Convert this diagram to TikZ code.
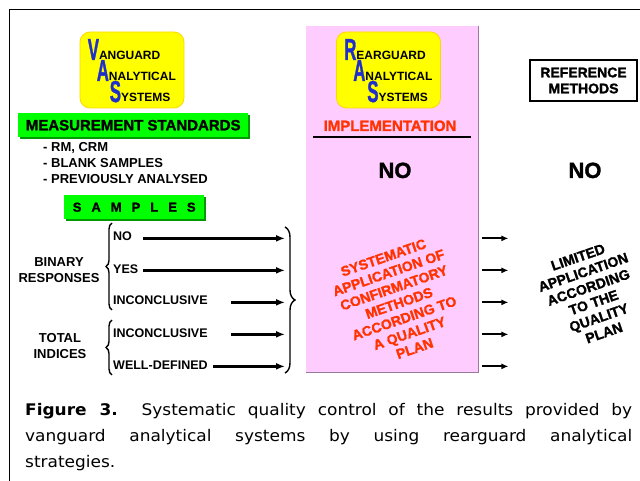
\documentclass[tikz,border=0pt]{standalone}
\usepackage{fontspec}
\setmainfont{Liberation Sans}
\newfontfamily\heavyfont{Liberation Sans}[BoldFeatures={FakeBold=1.5}]
\newfontfamily\capfont{DejaVu Sans}[FakeStretch=1.06]
\usepackage{xcolor}
\usetikzlibrary{arrows.meta,positioning,decorations.pathreplacing,shadows}
\definecolor{vyellow}{HTML}{FFFF00}
\definecolor{vgreen}{HTML}{00FF00}
\definecolor{vshade}{HTML}{009900}
\definecolor{rpink}{HTML}{FFCCFF}
\definecolor{rshade}{HTML}{9A7A9A}
\definecolor{rred}{HTML}{FF3300}
\definecolor{letblue}{HTML}{1F2FCC}
\newcommand{\bigletter}[1]{\textcolor{letblue}{\scalebox{1.05}[1.9]{\heavyfont\bfseries\fontsize{16}{16}\selectfont #1}}}
\begin{document}
\begin{tikzpicture}[x=1pt,y=-1pt,
  sysbox/.style={rectangle,rounded corners=10pt,draw=yellow!75!orange,line width=0.8pt,fill=vyellow,minimum width=104pt,minimum height=76pt},
  sysline/.style={anchor=base west,inner sep=0pt,font=\fontsize{12}{12}\selectfont\bfseries},
  greenbox/.style={rectangle,fill=vgreen,inner sep=0pt,anchor=north west,drop shadow={shadow xshift=1.5pt,shadow yshift=-1.5pt,fill=vshade,opacity=1}},
  item/.style={anchor=base west,inner sep=0pt,font=\fontsize{12.5}{15}\selectfont\bfseries},
  group/.style={align=center,inner sep=0pt,font=\fontsize{13}{16}\selectfont\bfseries},
  longarr/.style={-{Latex[length=9pt,width=7pt]},line width=2.4pt},
  smallarr/.style={-{Latex[length=7pt,width=6pt]},line width=1.8pt},
  curly/.style={decorate,decoration={brace,amplitude=#1},line width=1.4pt},
  slanted/.style={align=center,rotate=19,inner sep=0pt,font=\heavyfont\fontsize{14}{16}\selectfont\bfseries}]
\useasboundingbox (0,0) rectangle (640,481);
\draw[line width=1pt] (9,481) -- (9,10) -- (640,10);
% rearguard column
\node[rectangle,fill=rpink,anchor=north west,minimum width=172pt,minimum height=346pt,inner sep=0pt] (pink) at (306,26) {};
\draw[rshade,line width=1pt] (pink.north east) -- (pink.south east) -- (pink.south west);
\node[sysbox] (ras) at (388.5,70) {};
\node[sysline] (r1) at ([shift={(8,-10)}]ras.west) {\bigletter{R}EARGUARD};
\node[sysline] (r2) at ([shift={(17,11)}]ras.west) {\bigletter{A}NALYTICAL};
\node[sysline] (r3) at ([shift={(31,32)}]ras.west) {\bigletter{S}YSTEMS};
\node[anchor=base,inner sep=0pt,text=rred,font=\heavyfont\fontsize{15}{15}\selectfont\bfseries] (impl) at (390,131) {IMPLEMENTATION};
\draw[line width=2pt] (313,137) -- (471,137);
\node[anchor=base,inner sep=0pt,font=\heavyfont\fontsize{22}{22}\selectfont\bfseries] (noimpl) at (395,178) {NO};
\node[slanted,text=rred] (sysapp) at (399,303) {SYSTEMATIC\\APPLICATION OF\\CONFIRMATORY\\METHODS\\ACCORDING TO\\A QUALITY\\PLAN};
% reference methods
\node[draw,line width=1.8pt,minimum width=107pt,minimum height=41pt,inner sep=0pt,align=center,font=\heavyfont\fontsize{14}{16}\selectfont\bfseries] (refm) at (583.5,80.5) {REFERENCE\\METHODS};
\node[anchor=base,inner sep=0pt,font=\heavyfont\fontsize{22}{22}\selectfont\bfseries] (noref) at (585,178) {NO};
\node[slanted] (limited) at (591,295) {LIMITED\\APPLICATION\\ACCORDING\\TO THE\\QUALITY\\PLAN};
% vanguard side
\node[sysbox] (vas) at (132,70) {};
\node[sysline] (v1) at ([shift={(8,-10)}]vas.west) {\bigletter{V}ANGUARD};
\node[sysline] (v2) at ([shift={(17,11)}]vas.west) {\bigletter{A}NALYTICAL};
\node[sysline] (v3) at ([shift={(30,32)}]vas.west) {\bigletter{S}YSTEMS};
\node[greenbox,minimum width=230pt,minimum height=24pt,font=\heavyfont\fontsize{15}{15}\selectfont\bfseries] (ms) at (18,113) {MEASUREMENT STANDARDS};
\node[anchor=north west,align=left,inner sep=0pt,font=\fontsize{13}{16}\selectfont\bfseries] (stdlist) at (43,142.5) {- RM, CRM\\- BLANK SAMPLES\\- PREVIOUSLY ANALYSED};
\node[greenbox,minimum width=140pt,minimum height=24pt,font=\heavyfont\fontsize{13}{13}\selectfont\bfseries] (samples) at (64,195) {S\hspace{10pt}A\hspace{10pt}M\hspace{10pt}P\hspace{10pt}L\hspace{10pt}E\hspace{10pt}S};
\node[group] (binary) at (59,270) {BINARY\\RESPONSES};
\node[group] (total) at (60,346) {TOTAL\\INDICES};
\node[item] (no) at (113,241) {NO};
\node[item] (yes) at (113,273) {YES};
\node[item] (inc) at (113,305) {INCONCLUSIVE};
\node[item] (incb) at (113,337) {INCONCLUSIVE};
\node[item] (well) at (113,369) {WELL-DEFINED};
\draw[curly=6pt] (112,310) -- (112,223);
\draw[curly=6pt] (112,375) -- (112,320);
\draw[curly=10pt] (285,227) -- (285,373);
\coordinate (rb) at (285,0);
\foreach \n/\g in {no/11,yes/5,inc/23,incb/23,well/5}
  \draw[longarr] ([xshift=\g pt]\n.mid east) -- (\n.mid east -| rb);
\foreach \n in {no,yes,inc,incb,well}
  \draw[smallarr] ([xshift=4pt]pink.east |- \n.mid east) -- ++(26,0);
% caption
\node[anchor=north west,inner sep=0pt,text width=607pt,align=justify,font=\capfont\fontsize{16}{26}\selectfont] (caption) at (25,403.5) {\textbf{Figure 3.}\ \ Systematic quality control of the results provided by\linebreak vanguard analytical systems by using rearguard analytical\linebreak strategies.};
\end{tikzpicture}
\end{document}
